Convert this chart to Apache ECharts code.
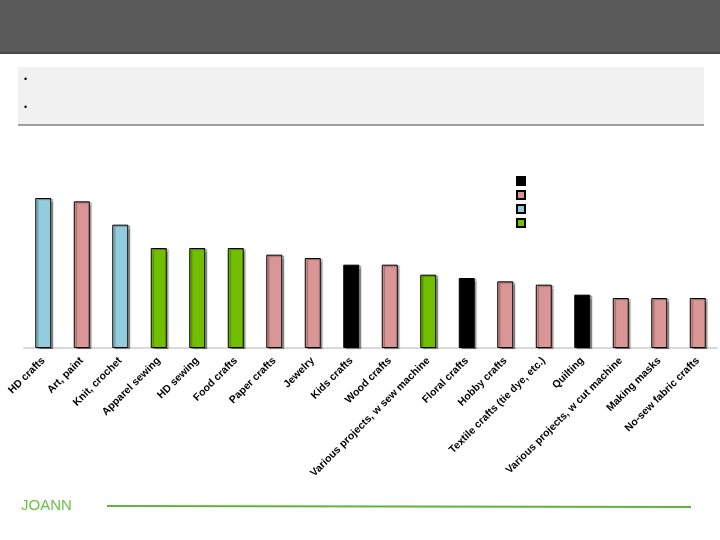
<!DOCTYPE html>
<html>
<head>
<meta charset="utf-8">
<script src="https://cdn.jsdelivr.net/npm/echarts@6/dist/echarts.min.js"></script>
<style>
  html, body { margin: 0; padding: 0; background: #fff; }
  #chart { width: 720px; height: 540px; }
</style>
</head>
<body>
<div id="chart"></div>
<script>
const categories = ['HD crafts', 'Art, paint', 'Knit, crochet', 'Apparel sewing', 'HD sewing', 'Food crafts',
  'Paper crafts', 'Jewelry', 'Kids crafts', 'Wood crafts', 'Various projects, w sew machine', 'Floral crafts',
  'Hobby crafts', 'Textile crafts (tie dye, etc.)', 'Quilting', 'Various projects, w cut machine',
  'Making masks', 'No-sew fabric crafts'];
const values = [45, 44, 37, 30, 30, 30, 28, 27, 25, 25, 22, 21, 20, 19, 16, 15, 15, 15];
// group index of each bar: 0 black, 1 pink, 2 blue, 3 green
const groups = [2, 1, 2, 3, 3, 3, 1, 1, 0, 1, 3, 0, 1, 1, 0, 1, 1, 1];
const groupNames = ['Group 1', 'Group 2', 'Group 3', 'Group 4'];
const groupColors = ['#000000', '#d99694', '#93cddd', '#72be00'];

const chart = echarts.init(document.getElementById('chart'));

const series = groupNames.map((name, g) => ({
  name: name,
  type: 'bar',
  barWidth: 16,
  barGap: '-100%',
  data: values.map((v, i) => (groups[i] === g ? v : '-')),
  itemStyle: {
    color: groupColors[g],
    borderColor: '#000',
    borderWidth: 1,
    shadowColor: 'rgba(0,0,0,0.35)',
    shadowOffsetX: 2,
    shadowOffsetY: 1,
    shadowBlur: 1
  },
  emphasis: { disabled: true },
  animation: false
}));

const option = {
  animation: false,
  textStyle: { fontFamily: 'Liberation Sans, Arial, sans-serif' },
  grid: { left: 24, width: 693, top: 148, height: 200, containLabel: false },
  legend: {
    data: groupNames,
    orient: 'vertical',
    left: 516,
    top: 176,
    padding: 0,
    itemWidth: 8,
    itemHeight: 8,
    itemGap: 4,
    icon: 'rect',
    textStyle: { fontSize: 6, lineHeight: 8 },
    formatter: () => '',
    selectedMode: false
  },
  xAxis: {
    type: 'category',
    data: categories,
    axisLine: { lineStyle: { color: '#d9d9d9', width: 2 } },
    axisTick: { show: false },
    axisLabel: {
      interval: 0,
      rotate: 45,
      color: '#000',
      fontSize: 10.5,
      fontWeight: 'bold',
      margin: 11
    }
  },
  yAxis: { type: 'value', min: 0, max: 60, show: false, splitLine: { show: false } },
  series: series,
  graphic: [
    { type: 'rect', shape: { x: 0, y: 0, width: 720, height: 53 }, style: { fill: '#5a5a5a' } },
    { type: 'rect', shape: { x: 0, y: 52, width: 720, height: 2 }, style: { fill: '#4a4a4a' } },
    { type: 'rect', shape: { x: 18, y: 67, width: 686, height: 57 }, style: { fill: '#f1f1f1' } },
    { type: 'rect', shape: { x: 18, y: 124, width: 686, height: 2 }, style: { fill: '#a0a0a0' } },
    { type: 'text', left: 24, top: 75, style: { text: '•', fill: '#000', font: '9px Liberation Sans' } },
    { type: 'text', left: 24, top: 103, style: { text: '•', fill: '#000', font: '9px Liberation Sans' } },
    { type: 'text', left: 21, top: 498, style: { text: 'JOANN', fill: '#6cc04a', font: '15px Liberation Sans' } },
    { type: 'line', shape: { x1: 107, y1: 506, x2: 691, y2: 507 }, style: { stroke: '#62b33a', lineWidth: 2 } }
  ]
};

chart.setOption(option);
</script>
</body>
</html>
